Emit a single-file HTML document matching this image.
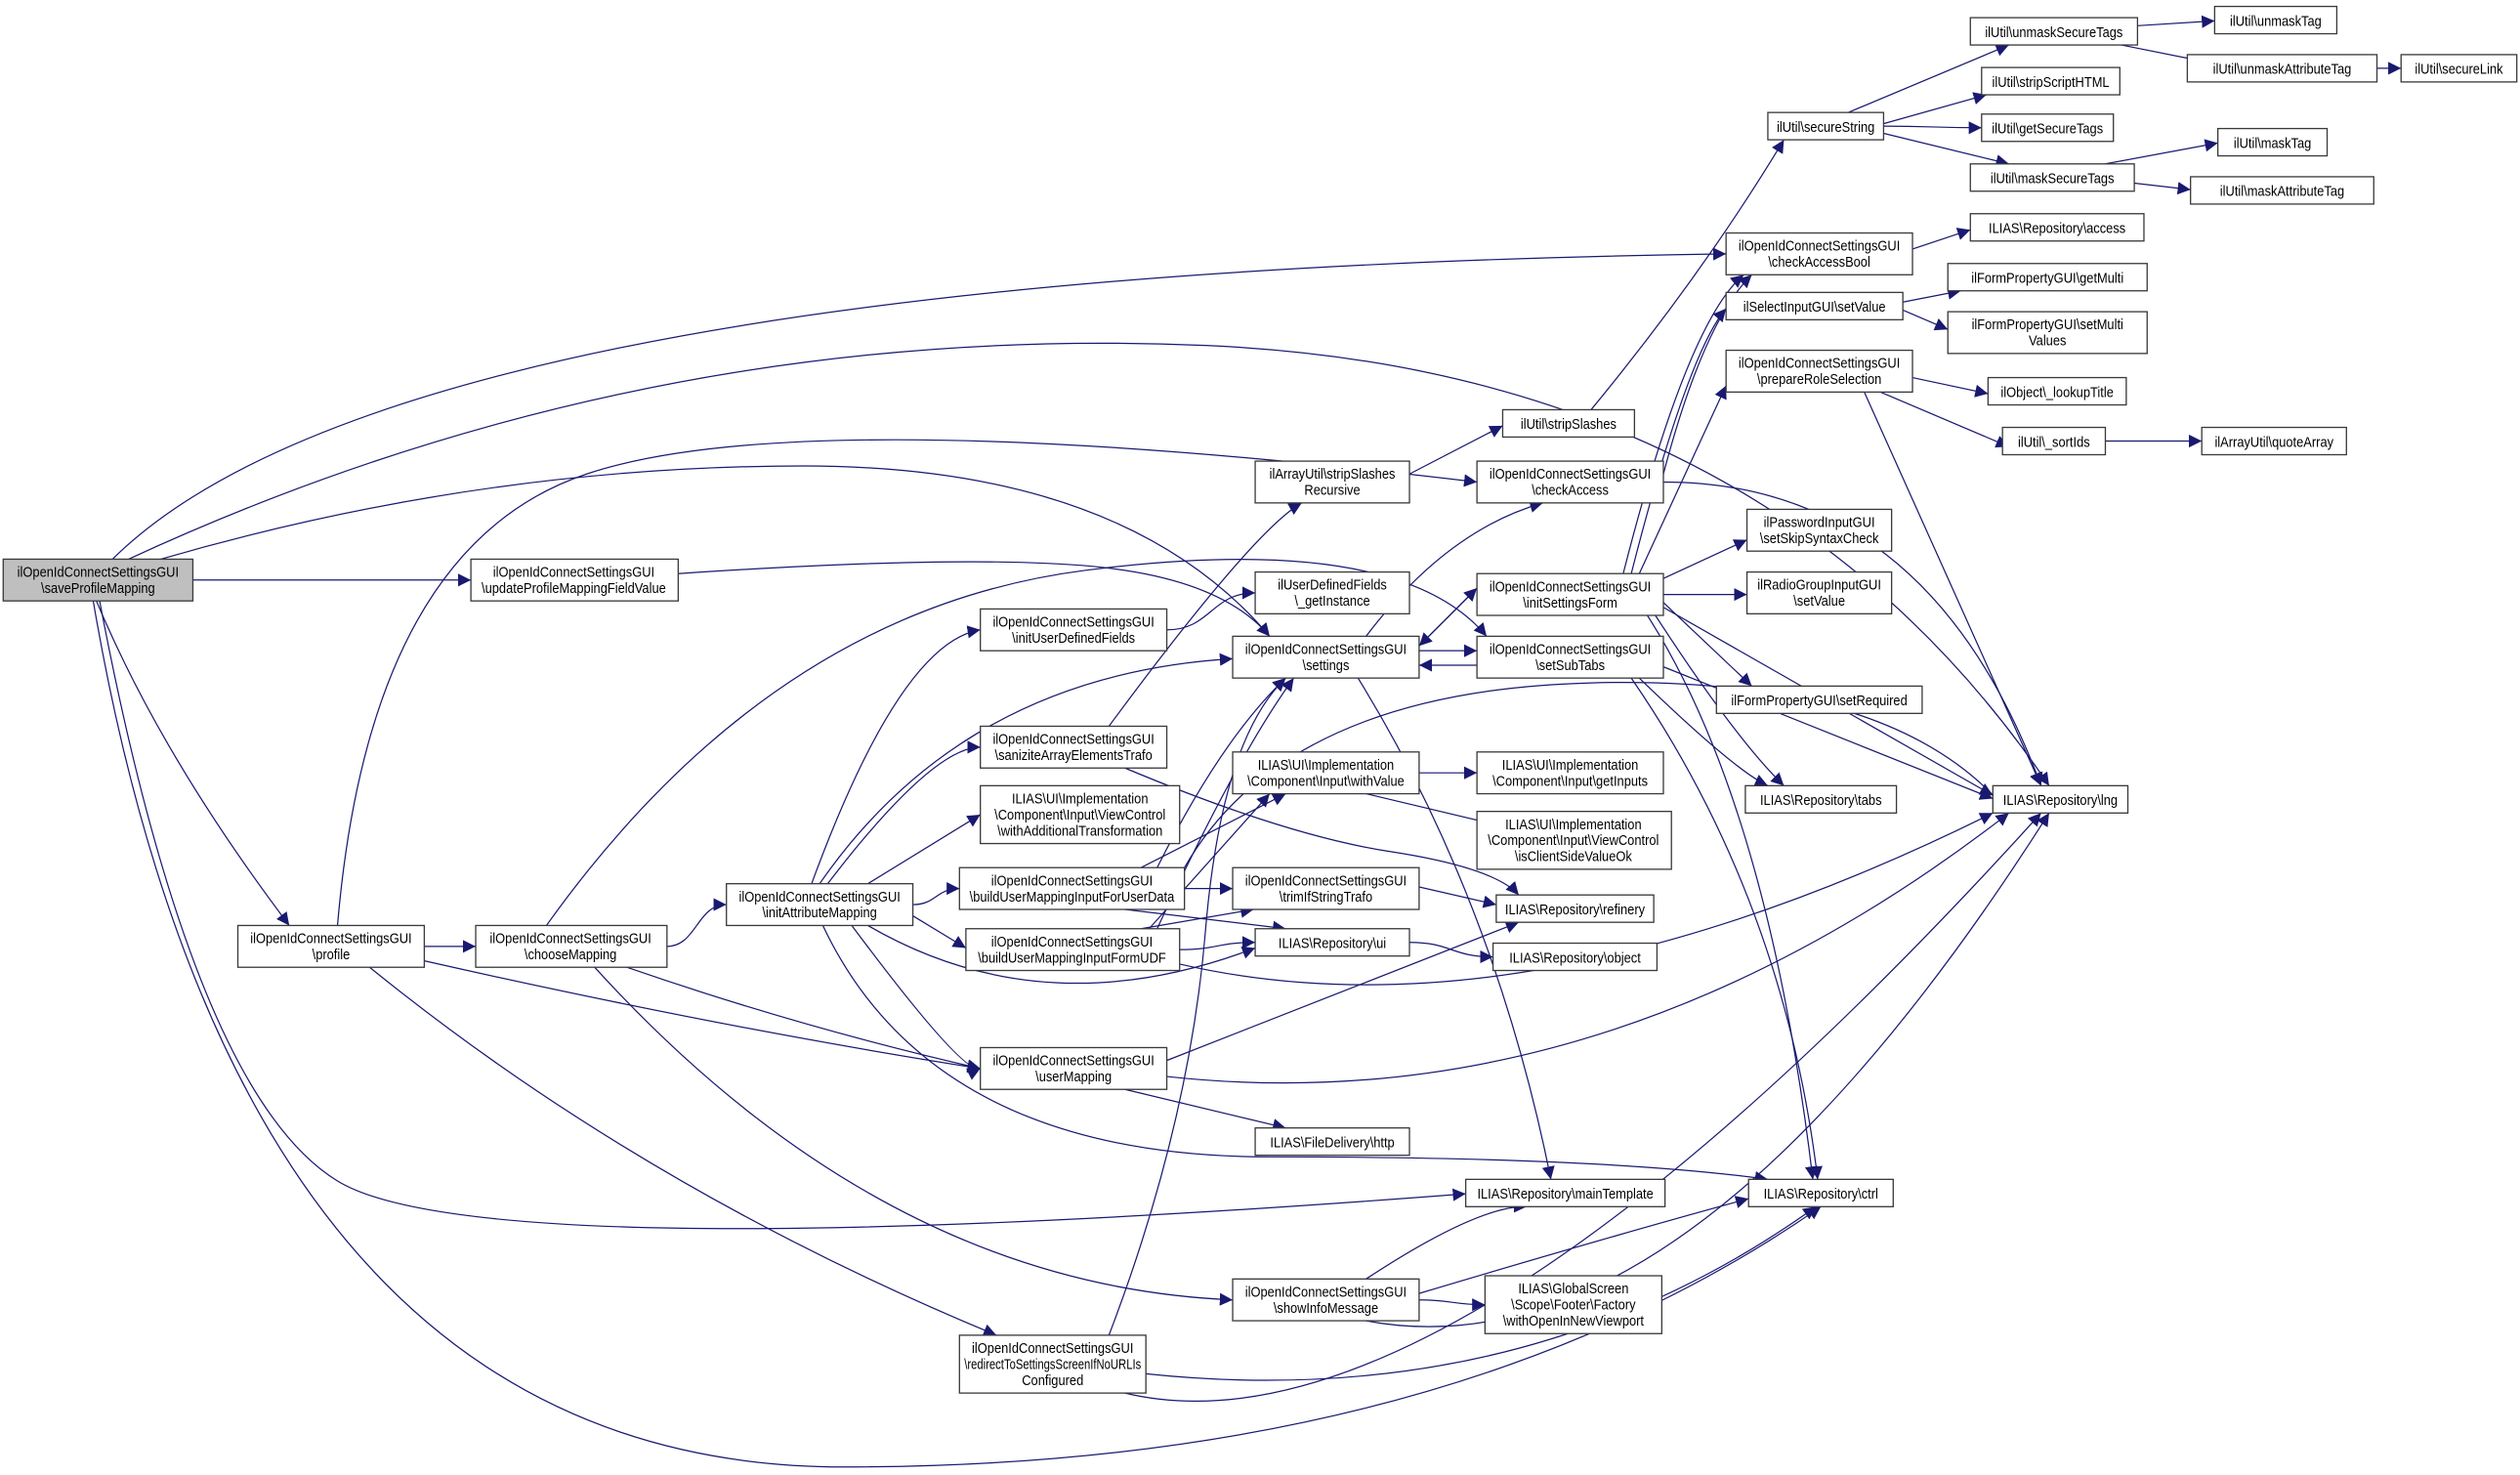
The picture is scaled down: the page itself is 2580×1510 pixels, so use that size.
<!DOCTYPE html>
<html><head><meta charset="utf-8"><style>
html,body{margin:0;padding:0;background:#fff;width:2580px;height:1510px;overflow:hidden}
svg{display:block}
text{font-family:"Liberation Sans",sans-serif;font-size:9px;fill:#000;text-anchor:middle}
rect{fill:#fff;stroke:#3a3a3a;stroke-width:0.8}
path.e{fill:none;stroke:#191970;stroke-width:0.75}
</style></head><body>
<svg id="s" width="2580" height="1510" viewBox="0 0 1568 918" preserveAspectRatio="none" xmlns="http://www.w3.org/2000/svg">
<defs><marker id="a" viewBox="0 0 10 10" refX="10" refY="5" markerWidth="8" markerHeight="8" markerUnits="userSpaceOnUse" orient="auto"><path d="M0,0L10,5L0,10z" fill="#191970"/></marker></defs>
<g id="edges"></g>
<g id="nodes">
<rect id="save" x="2" y="348" width="118" height="26" style="fill:#bfbfbf"/><text x="61" y="359">ilOpenIdConnectSettingsGUI</text><text x="61" y="369">\saveProfileMapping</text>
<rect id="upd" x="293" y="348" width="129" height="26"/><text x="357" y="359">ilOpenIdConnectSettingsGUI</text><text x="357" y="369">\updateProfileMappingFieldValue</text>
<rect id="prof" x="148" y="576" width="116" height="26"/><text x="206" y="587">ilOpenIdConnectSettingsGUI</text><text x="206" y="597">\profile</text>
<rect id="choose" x="296" y="576" width="119" height="26"/><text x="355" y="587">ilOpenIdConnectSettingsGUI</text><text x="355" y="597">\chooseMapping</text>
<rect id="initA" x="452" y="550" width="116" height="26"/><text x="510" y="561">ilOpenIdConnectSettingsGUI</text><text x="510" y="571">\initAttributeMapping</text>
<rect id="initU" x="610" y="379" width="116" height="26"/><text x="668" y="390">ilOpenIdConnectSettingsGUI</text><text x="668" y="400">\initUserDefinedFields</text>
<rect id="san" x="610" y="452" width="116" height="26"/><text x="668" y="463">ilOpenIdConnectSettingsGUI</text><text x="668" y="473">\saniziteArrayElementsTrafo</text>
<rect id="wat" x="610" y="489" width="124" height="36"/><text x="672" y="500">ILIAS\UI\Implementation</text><text x="672" y="510">\Component\Input\ViewControl</text><text x="672" y="520">\withAdditionalTransformation</text>
<rect id="bud" x="597" y="540" width="140" height="26"/><text x="667" y="551">ilOpenIdConnectSettingsGUI</text><text x="667" y="561">\buildUserMappingInputForUserData</text>
<rect id="budf" x="601" y="578" width="133" height="26"/><text x="667" y="589">ilOpenIdConnectSettingsGUI</text><text x="667" y="599">\buildUserMappingInputFormUDF</text>
<rect id="um" x="610" y="652" width="116" height="26"/><text x="668" y="663">ilOpenIdConnectSettingsGUI</text><text x="668" y="673">\userMapping</text>
<rect id="red" x="597" y="831" width="116" height="36"/><text x="655" y="842">ilOpenIdConnectSettingsGUI</text><text x="655" y="852">\redirectToSettingsScreenIfNoURLIs</text><text x="655" y="862">Configured</text>
<rect id="info" x="767" y="796" width="116" height="26"/><text x="825" y="807">ilOpenIdConnectSettingsGUI</text><text x="825" y="817">\showInfoMessage</text>
<rect id="ssr" x="781" y="287" width="96" height="26"/><text x="829" y="298">ilArrayUtil\stripSlashes</text><text x="829" y="308">Recursive</text>
<rect id="gi" x="781" y="356" width="96" height="26"/><text x="829" y="367">ilUserDefinedFields</text><text x="829" y="377">\_getInstance</text>
<rect id="set" x="767" y="396" width="116" height="26"/><text x="825" y="407">ilOpenIdConnectSettingsGUI</text><text x="825" y="417">\settings</text>
<rect id="wv" x="767" y="468" width="116" height="26"/><text x="825" y="479">ILIAS\UI\Implementation</text><text x="825" y="489">\Component\Input\withValue</text>
<rect id="trim" x="767" y="540" width="116" height="26"/><text x="825" y="551">ilOpenIdConnectSettingsGUI</text><text x="825" y="561">\trimIfStringTrafo</text>
<rect id="ui" x="781" y="578" width="96" height="17"/><text x="829" y="590">ILIAS\Repository\ui</text>
<rect id="http" x="781" y="702" width="96" height="17"/><text x="829" y="714">ILIAS\FileDelivery\http</text>
<rect id="mt" x="912" y="734" width="124" height="17"/><text x="974" y="746">ILIAS\Repository\mainTemplate</text>
<rect id="ss" x="935" y="255" width="82" height="17"/><text x="976" y="267">ilUtil\stripSlashes</text>
<rect id="ca" x="919" y="287" width="116" height="26"/><text x="977" y="298">ilOpenIdConnectSettingsGUI</text><text x="977" y="308">\checkAccess</text>
<rect id="isf" x="919" y="357" width="116" height="26"/><text x="977" y="368">ilOpenIdConnectSettingsGUI</text><text x="977" y="378">\initSettingsForm</text>
<rect id="sst" x="919" y="396" width="116" height="26"/><text x="977" y="407">ilOpenIdConnectSettingsGUI</text><text x="977" y="417">\setSubTabs</text>
<rect id="gin" x="919" y="468" width="116" height="26"/><text x="977" y="479">ILIAS\UI\Implementation</text><text x="977" y="489">\Component\Input\getInputs</text>
<rect id="icv" x="919" y="505" width="121" height="36"/><text x="979" y="516">ILIAS\UI\Implementation</text><text x="979" y="526">\Component\Input\ViewControl</text><text x="979" y="536">\isClientSideValueOk</text>
<rect id="ref" x="931" y="557" width="98" height="17"/><text x="980" y="569">ILIAS\Repository\refinery</text>
<rect id="obj" x="929" y="587" width="102" height="17"/><text x="980" y="599">ILIAS\Repository\object</text>
<rect id="gs" x="924" y="794" width="110" height="36"/><text x="979" y="805">ILIAS\GlobalScreen</text><text x="979" y="815">\Scope\Footer\Factory</text><text x="979" y="825">\withOpenInNewViewport</text>
<rect id="sec" x="1100" y="70" width="72" height="17"/><text x="1136" y="82">ilUtil\secureString</text>
<rect id="cab" x="1074" y="145" width="116" height="26"/><text x="1132" y="156">ilOpenIdConnectSettingsGUI</text><text x="1132" y="166">\checkAccessBool</text>
<rect id="sv" x="1074" y="182" width="110" height="17"/><text x="1129" y="194">ilSelectInputGUI\setValue</text>
<rect id="prs" x="1074" y="218" width="116" height="26"/><text x="1132" y="229">ilOpenIdConnectSettingsGUI</text><text x="1132" y="239">\prepareRoleSelection</text>
<rect id="skip" x="1087" y="317" width="90" height="26"/><text x="1132" y="328">ilPasswordInputGUI</text><text x="1132" y="338">\setSkipSyntaxCheck</text>
<rect id="rg" x="1087" y="356" width="90" height="26"/><text x="1132" y="367">ilRadioGroupInputGUI</text><text x="1132" y="377">\setValue</text>
<rect id="req" x="1068" y="427" width="128" height="17"/><text x="1132" y="439">ilFormPropertyGUI\setRequired</text>
<rect id="tabs" x="1086" y="489" width="94" height="17"/><text x="1133" y="501">ILIAS\Repository\tabs</text>
<rect id="ctrl" x="1088" y="734" width="90" height="17"/><text x="1133" y="746">ILIAS\Repository\ctrl</text>
<rect id="ust" x="1226" y="11" width="104" height="17"/><text x="1278" y="23">ilUtil\unmaskSecureTags</text>
<rect id="ssh" x="1233" y="42" width="86" height="17"/><text x="1276" y="54">ilUtil\stripScriptHTML</text>
<rect id="gst" x="1233" y="71" width="82" height="17"/><text x="1274" y="83">ilUtil\getSecureTags</text>
<rect id="mst" x="1226" y="102" width="102" height="17"/><text x="1277" y="114">ilUtil\maskSecureTags</text>
<rect id="acc" x="1226" y="133" width="108" height="17"/><text x="1280" y="145">ILIAS\Repository\access</text>
<rect id="gm" x="1212" y="164" width="124" height="17"/><text x="1274" y="176">ilFormPropertyGUI\getMulti</text>
<rect id="smv" x="1212" y="194" width="124" height="26"/><text x="1274" y="205">ilFormPropertyGUI\setMulti</text><text x="1274" y="215">Values</text>
<rect id="lt" x="1237" y="235" width="86" height="17"/><text x="1280" y="247">ilObject\_lookupTitle</text>
<rect id="si" x="1246" y="266" width="64" height="17"/><text x="1278" y="278">ilUtil\_sortIds</text>
<rect id="lng" x="1240" y="489" width="84" height="17"/><text x="1282" y="501">ILIAS\Repository\lng</text>
<rect id="ut" x="1378" y="4" width="76" height="17"/><text x="1416" y="16">ilUtil\unmaskTag</text>
<rect id="uat" x="1361" y="34" width="118" height="17"/><text x="1420" y="46">ilUtil\unmaskAttributeTag</text>
<rect id="sl" x="1494" y="34" width="72" height="17"/><text x="1530" y="46">ilUtil\secureLink</text>
<rect id="mtag" x="1380" y="80" width="68" height="17"/><text x="1414" y="92">ilUtil\maskTag</text>
<rect id="mat" x="1363" y="110" width="114" height="17"/><text x="1420" y="122">ilUtil\maskAttributeTag</text>
<rect id="qa" x="1370" y="266" width="90" height="17"/><text x="1415" y="278">ilArrayUtil\quoteArray</text>
</g>
</svg>
<script>
(function(){
function b(id){var r=document.getElementById(id);var x=+r.getAttribute('x'),y=+r.getAttribute('y'),w=+r.getAttribute('width'),h=+r.getAttribute('height');return{x:x,y:y,w:w,h:h,r:x+w,b:y+h,cx:x+w/2,cy:y+h/2};}
var E=[
['save','upd'],['save','prof',[[60,374],[100,470],[180,576]]],['save','cab',[[70,348],[250,170],[1074,158]]],
['save','lng',[[80,348],[400,200],[1100,230],[1275,489]]],['save','set',[[100,348],[300,290],[700,290],[790,396]]],
['save','mt',[[62,374],[120,680],[300,790],[912,743]]],['save','ctrl',[[58,374],[150,913],[900,913],[1133,751]]],
['upd','set',[[422,357],[600,345],[760,360],[790,396]]],
['prof','choose'],['prof','um',[[264,598],[450,640],[610,665]]],['prof','red',[[230,602],[400,740],[620,831]]],
['prof','ca',[[210,576],[230,340],[500,250],[919,300]]],
['choose','initA'],['choose','um',[[390,602],[500,640],[610,665]]],['choose','info',[[370,602],[550,800],[767,809]]],
['choose','sst',[[340,576],[480,380],[870,330],[925,396]]],
['initA','initU',[[505,550],[560,400],[610,392]]],['initA','set',[[510,550],[600,420],[767,410]]],['initA','san',[[515,550],[580,465],[610,465]]],
['initA','wat',[[540,550],[610,507]]],['initA','bud'],['initA','budf',[[568,570],[601,590]]],
['initA','ui',[[540,576],[650,640],[781,590]]],['initA','um',[[530,576],[600,670],[610,665]]],
['initA','ctrl',[[512,576],[580,720],[1000,720],[1100,734]]],
['initU','gi'],['san','ssr',[[690,452],[780,330],[810,313]]],['san','ref',[[700,478],[800,520],[930,540],[945,557]]],
['bud','wv',[[710,540],[800,494]]],['bud','trim'],['bud','ui',[[700,566],[800,578]]],['bud','set',[[720,540],[760,460],[800,422]]],
['bud','lng',[[737,540],[800,430],[1180,420],[1250,506]]],
['budf','wv',[[715,578],[790,494]]],['budf','trim',[[710,578],[780,566]]],['budf','ui'],['budf','set',[[720,578],[770,470],[805,422]]],
['budf','lng',[[734,600],[950,650],[1240,506]]],
['um','ref',[[726,660],[880,600],[945,574]]],['um','http',[[700,678],[800,702]]],['um','lng',[[726,670],[1000,700],[1250,506]]],
['red','set',[[690,831],[740,700],[760,460],[800,422]]],['red','ctrl',[[713,855],[950,880],[1130,751]]],['red','lng',[[700,867],[900,915],[1270,506]]],
['info','mt',[[850,796],[920,750],[950,751]]],['info','ctrl',[[883,805],[1000,770],[1088,746]]],['info','gs'],['info','lng',[[850,822],[1050,860],[1275,506]]],
['ssr','ss',[[877,295],[935,265]]],
['set','ca',[[850,396],[900,330],[960,313]]],['set','isf',[[883,402],[919,366]]],['set','sst',[[883,405],[919,405]]],['set','mt',[[845,422],[930,560],[965,734]]],
['wv','gin'],['wv','icv',[[850,494],[930,513]]],['trim','ref',[[883,552],[931,563]]],['ui','obj'],
['ss','sec',[[990,255],[1060,170],[1110,87]]],
['ca','cab',[[1035,295],[1060,200],[1090,171]]],['ca','lng',[[1035,300],[1200,300],[1270,489]]],
['isf','cab',[[1010,357],[1050,200],[1085,171]]],['isf','sv',[[1015,357],[1050,220],[1074,192]]],['isf','prs',[[1020,357],[1074,240]]],
['isf','skip',[[1035,360],[1087,336]]],['isf','rg',[[1035,370],[1087,370]]],['isf','req',[[1035,375],[1090,427]]],
['isf','tabs',[[1030,383],[1080,460],[1110,489]]],['isf','lng',[[1035,378],[1240,495]]],['isf','ctrl',[[1025,383],[1100,500],[1128,734]]],
['isf','set',[[919,366],[883,402]]],
['sst','set',[[919,414],[883,414]]],['sst','tabs',[[1020,422],[1080,480],[1100,489]]],['sst','lng',[[1035,415],[1240,497]]],['sst','ctrl',[[1015,422],[1110,560],[1131,734]]],
['sec','ust',[[1150,70],[1250,28]]],['sec','ssh',[[1172,77],[1236,59]]],['sec','gst'],['sec','mst',[[1172,83],[1250,102]]],
['cab','acc',[[1190,155],[1226,143]]],['sv','gm',[[1184,188],[1220,181]]],['sv','smv',[[1184,193],[1212,205]]],
['prs','lt',[[1190,235],[1237,245]]],['prs','si',[[1170,244],[1250,278]]],['prs','lng',[[1160,244],[1270,489]]],
['ust','ut',[[1330,16],[1378,13]]],['ust','uat',[[1320,28],[1390,42]]],['uat','sl'],['mst','mtag',[[1310,102],[1380,89]]],['mst','mat',[[1328,114],[1363,118]]],
['si','qa']
];
var g=document.getElementById('edges'),h='';
E.forEach(function(e){var d;
 if(e[2]){var p=e[2];
  if(p.length==2){d='M'+p[0]+'L'+p[1];}
  else{d='M'+p[0];for(var i=1;i<p.length-1;i++){var m=[(p[i][0]+p[i+1][0])/2,(p[i][1]+p[i+1][1])/2];if(i==p.length-2)m=p[i+1];d+='Q'+p[i]+' '+m;}}
 }else{var s=b(e[0]),t=b(e[1]);var x1=s.r,y1=s.cy,x2=t.x,y2=t.cy,dx=(x2-x1)/2;d='M'+x1+','+y1+'C'+(x1+dx)+','+y1+' '+(x2-dx)+','+y2+' '+x2+','+y2;}
 h+='<path class="e" d="'+d+'" marker-end="url(#a)"/>';});
g.innerHTML=h;
var rects=document.querySelectorAll('#nodes rect');
rects.forEach(function(r){
 var w=+r.getAttribute('width');var t=r.nextElementSibling;
 while(t&&t.tagName.toLowerCase()==='text'){
  try{var L=t.getComputedTextLength();var n=Math.min(L*0.87,w-6);t.setAttribute('textLength',n.toFixed(1));t.setAttribute('lengthAdjust','spacingAndGlyphs');}catch(err){}
  t=t.nextElementSibling;}
});
})();
</script>
</body></html>
